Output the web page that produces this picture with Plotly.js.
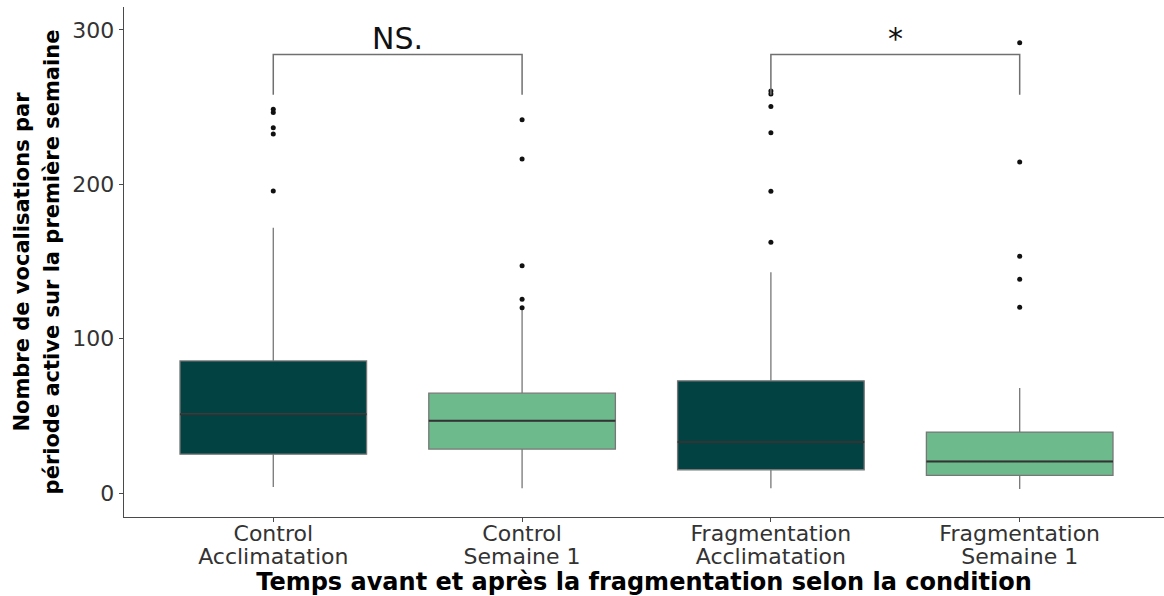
<!DOCTYPE html>
<html>
<head>
<meta charset="utf-8">
<script src="https://cdn.plot.ly/plotly-3.0.1.min.js"></script>
<style>html,body{margin:0;padding:0;background:#fff;}#chart{width:1164px;height:596px;}</style>
</head>
<body>
<div id="chart"></div>
<script>
// ---- data ----
const categories = ["Control<br>Acclimatation", "Control<br>Semaine 1", "Fragmentation<br>Acclimatation", "Fragmentation<br>Semaine 1"];
const periods = ["Acclimatation", "Semaine 1", "Acclimatation", "Semaine 1"];
const q1Values = [25.2, 28.5, 15.1, 11.4];
const medianValues = [51.1, 46.8, 33.0, 20.5];
const q3Values = [85.6, 64.7, 72.7, 39.5];
const lowerWhisker = [3.9, 3.2, 3.2, 2.6];
const upperWhisker = [171.9, 118.5, 143.0, 68.0];
const outlierCategory = [0,0,0,0,0, 1,1,1,1,1, 2,2,2,2,2,2, 3,3,3,3,3];
const outlierValues = [248.5, 246.5, 236.6, 232.6, 195.7,
                       241.7, 216.4, 147.3, 125.6, 120.1,
                       260.4, 258.4, 250.3, 233.4, 195.5, 162.5,
                       291.7, 214.4, 153.4, 138.5, 120.4];
const comparisons = [[0, 1], [2, 3]];
const comparisonLabels = ["NS.", "*"];
const bracketTop = 284;
const bracketBottom = 258;
const periodColors = {"Acclimatation": "#034243", "Semaine 1": "#6dba8c"};

const FONT = "DejaVu Sans";
const traces = [];
// boxes, one trace per period colour
["Acclimatation", "Semaine 1"].forEach(p => {
  const idx = periods.map((v, i) => v === p ? i : -1).filter(i => i >= 0);
  traces.push({
    type: "box",
    x: idx.map(i => categories[i]),
    q1: idx.map(i => q1Values[i]),
    median: idx.map(i => medianValues[i]),
    q3: idx.map(i => q3Values[i]),
    lowerfence: idx.map(i => lowerWhisker[i]),
    upperfence: idx.map(i => upperWhisker[i]),
    boxpoints: false,
    width: 0.75,
    whiskerwidth: 0,
    fillcolor: periodColors[p],
    line: {color: "#777777", width: 1.3},
    hoverinfo: "skip",
    showlegend: false
  });
});
// darker median lines
traces.push({
  type: "box",
  x: categories,
  q1: medianValues, median: medianValues, q3: medianValues,
  lowerfence: medianValues, upperfence: medianValues,
  boxpoints: false, width: 0.75, whiskerwidth: 0,
  fillcolor: "rgba(0,0,0,0)",
  line: {color: "#333333", width: 2},
  hoverinfo: "skip", showlegend: false
});
// outliers
traces.push({
  type: "scatter", mode: "markers",
  x: outlierCategory.map(i => categories[i]),
  y: outlierValues,
  marker: {color: "#111111", size: 5},
  hoverinfo: "skip", showlegend: false
});
// significance brackets
comparisons.forEach(c => {
  traces.push({
    type: "scatter", mode: "lines",
    x: [categories[c[0]], categories[c[0]], categories[c[1]], categories[c[1]]],
    y: [bracketBottom, bracketTop, bracketTop, bracketBottom],
    line: {color: "#707070", width: 1.5},
    hoverinfo: "skip", showlegend: false
  });
});

const annotations = comparisons.map((c, k) => ({
  xref: "x", yref: "y",
  x: (c[0] + c[1]) / 2, y: bracketTop,
  text: comparisonLabels[k],
  showarrow: false,
  xanchor: "center", yanchor: "bottom", yshift: -3,
  font: {family: FONT, size: 30, color: "#111111"}
}));

const layout = {
  width: 1164, height: 596,
  margin: {l: 124, r: 0, t: 7, b: 79},
  paper_bgcolor: "#ffffff", plot_bgcolor: "#ffffff",
  boxmode: "overlay",
  showlegend: false,
  xaxis: {
    type: "category",
    categoryorder: "array", categoryarray: categories,
    range: [-0.6, 3.58],
    showline: true, linecolor: "#4a4a4a", linewidth: 1.3,
    ticks: "outside", ticklen: 4, tickcolor: "#4a4a4a", tickwidth: 1,
    ticklabelstandoff: -8,
    showgrid: false, zeroline: false,
    tickfont: {family: FONT, size: 22, color: "#333333"},
    title: {text: "<b>Temps avant et après la fragmentation selon la condition</b>",
            font: {family: FONT, size: 24, color: "#000000"}, standoff: 12}
  },
  yaxis: {
    range: [-15.5, 314.8],
    tickvals: [0, 100, 200, 300],
    showline: true, linecolor: "#4a4a4a", linewidth: 1.3,
    ticks: "outside", ticklen: 4, tickcolor: "#4a4a4a", tickwidth: 1,
    showgrid: false, zeroline: false,
    tickfont: {family: FONT, size: 22, color: "#333333"},
    title: {text: "<b>Nombre de vocalisations par<br>période active sur la première semaine</b>",
            font: {family: FONT, size: 21, color: "#000000"}, standoff: 9}
  },
  annotations: annotations
};

Plotly.newPlot("chart", traces, layout, {displayModeBar: false, staticPlot: true}).then(gd => {
  // tighter line spacing for the two-line category labels, as in the reference
  gd.querySelectorAll(".xtick text tspan.line").forEach(t => {
    if (t.getAttribute("dy") && t.getAttribute("dy") !== "0em") t.setAttribute("dy", "1.05em");
  });
  // slightly wider spacing for the two-line y title
  gd.querySelectorAll(".ytitle tspan.line").forEach(t => {
    if (t.getAttribute("dy") && t.getAttribute("dy") !== "0em") t.setAttribute("dy", "1.4em");
  });
});
</script>
</body>
</html>
